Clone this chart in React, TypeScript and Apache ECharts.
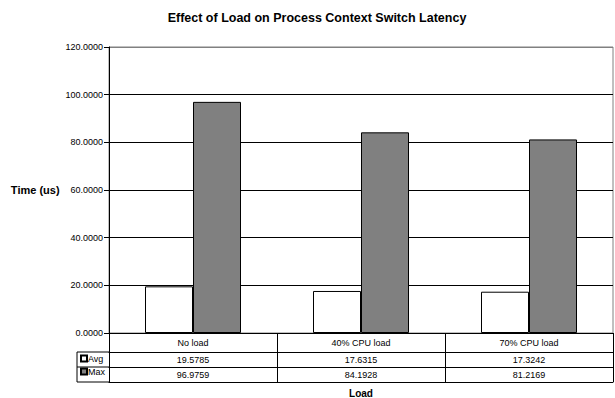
import React, { useEffect, useRef } from "react";
import * as echarts from "echarts";

// Load scenarios along the category axis
const categories = ["No load", "40% CPU load", "70% CPU load"];
// Context switch latency, microseconds
const avgValues = [19.5785, 17.6315, 17.3242];
const maxValues = [96.9759, 84.1928, 81.2169];
const seriesNames = ["Avg", "Max"];
const yTicks = { min: 0, max: 120, step: 20 };

const FONT = "'Liberation Sans', Arial, sans-serif";

export default function App() {
  const ref = useRef<HTMLDivElement>(null);

  useEffect(() => {
    document.body.style.margin = "0";
    const chart = echarts.init(ref.current!, undefined, { renderer: "svg" });

    const gridLeft = 109;
    const gridRight = 2;
    const gridTop = 47;
    const gridBottom = 65;
    const axisY = 398 - gridBottom; // baseline of the plot
    const rowH = 15;
    const headH = 19;

    const tableAxis = (offset: number, values: number[] | null, extra: any = {}) => ({
      type: "category",
      data: categories,
      position: "bottom",
      offset,
      axisLine: { show: true, lineStyle: { color: "#000", width: 1 } },
      axisTick: { show: false },
      axisLabel: values
        ? {
            show: true,
            interval: 0,
            margin: 3,
            fontSize: 9,
            fontFamily: FONT,
            color: "#000",
            formatter: (_v: string, i: number) => values[i].toFixed(4),
          }
        : { show: false },
      splitLine: { show: false },
      ...extra,
    });

    const splitColors = [] as string[];
    for (let v = yTicks.min; v <= yTicks.max; v += yTicks.step) {
      splitColors.push(v === yTicks.max ? "#808080" : "#000");
    }

    const leftX = 77;
    const r1 = axisY + headH;
    const r2 = r1 + rowH;
    const r3 = r2 + rowH;

    chart.setOption({
      animation: false,
      backgroundColor: "#fff",
      textStyle: { fontFamily: FONT },
      title: {
        text: "Effect of Load on Process Context Switch Latency",
        left: 312,
        top: 6,
        textAlign: "center",
        textStyle: { fontSize: 12.5, fontWeight: "bold", color: "#000", fontFamily: FONT },
      },
      legend: {
        data: seriesNames,
        orient: "vertical",
        left: 80,
        top: r1 + 2,
        itemWidth: 6,
        itemHeight: 6,
        itemGap: 4,
        padding: 0,
        icon: "rect",
        textStyle: { fontSize: 9, color: "#000", fontFamily: FONT, padding: [2, 0, 0, -4] },
      },
      grid: {
        left: gridLeft,
        right: gridRight,
        top: gridTop,
        bottom: gridBottom,
        outerBoundsMode: "none",
        containLabel: false,
        show: true,
        borderColor: "#808080",
        borderWidth: 1,
        backgroundColor: "#fff",
      },
      xAxis: [
        {
          type: "category",
          data: categories,
          position: "bottom",
          axisLine: { show: true, lineStyle: { color: "#000", width: 1 } },
          axisTick: {
            show: true,
            interval: 0,
            length: headH + 2 * rowH,
            lineStyle: { color: "#000", width: 1 },
          },
          axisLabel: { interval: 0, margin: 5, fontSize: 9, fontFamily: FONT, color: "#000" },
          splitLine: { show: false },
        },
        tableAxis(headH, avgValues),
        tableAxis(headH + rowH, maxValues),
        tableAxis(headH + 2 * rowH, null, {
          name: "Load",
          nameLocation: "middle",
          nameGap: 6,
          nameTextStyle: {
            fontSize: 10,
            fontWeight: "bold",
            color: "#000",
            fontFamily: FONT,
            verticalAlign: "top",
          },
        }),
      ],
      yAxis: {
        type: "value",
        min: yTicks.min,
        max: yTicks.max,
        interval: yTicks.step,
        name: "Time (us)",
        nameLocation: "middle",
        nameRotate: 0,
        nameGap: 46,
        nameTextStyle: {
          fontSize: 11,
          fontWeight: "bold",
          color: "#000",
          fontFamily: FONT,
          padding: [10, 0, 0, 0],
        },
        axisLine: { show: true, lineStyle: { color: "#000", width: 1 } },
        axisTick: { show: true, length: 5, lineStyle: { color: "#000" } },
        axisLabel: {
          fontSize: 9,
          color: "#000",
          fontFamily: FONT,
          margin: 6,
          formatter: (v: number) => v.toFixed(4),
        },
        splitLine: { show: true, lineStyle: { color: splitColors, width: 1 } },
      },
      series: [
        {
          name: seriesNames[0],
          type: "bar",
          data: avgValues,
          barWidth: 48,
          barGap: "0%",
          itemStyle: { color: "#fff", borderColor: "#000", borderWidth: 1 },
        },
        {
          name: seriesNames[1],
          type: "bar",
          data: maxValues,
          barWidth: 48,
          barGap: "0%",
          itemStyle: { color: "#808080", borderColor: "#000", borderWidth: 1 },
        },
      ],
      graphic: [
        // legend cell borders to the left of the data table
        { type: "line", shape: { x1: leftX, y1: r1, x2: gridLeft, y2: r1 }, style: { stroke: "#000", lineWidth: 1 } },
        { type: "line", shape: { x1: leftX, y1: r2, x2: gridLeft, y2: r2 }, style: { stroke: "#000", lineWidth: 1 } },
        { type: "line", shape: { x1: leftX, y1: r3, x2: gridLeft, y2: r3 }, style: { stroke: "#000", lineWidth: 1 } },
        { type: "line", shape: { x1: leftX, y1: r1, x2: leftX, y2: r3 }, style: { stroke: "#000", lineWidth: 1 } },
      ],
    });

    return () => chart.dispose();
  }, []);

  return <div ref={ref} style={{ width: 615, height: 398 }} />;
}
